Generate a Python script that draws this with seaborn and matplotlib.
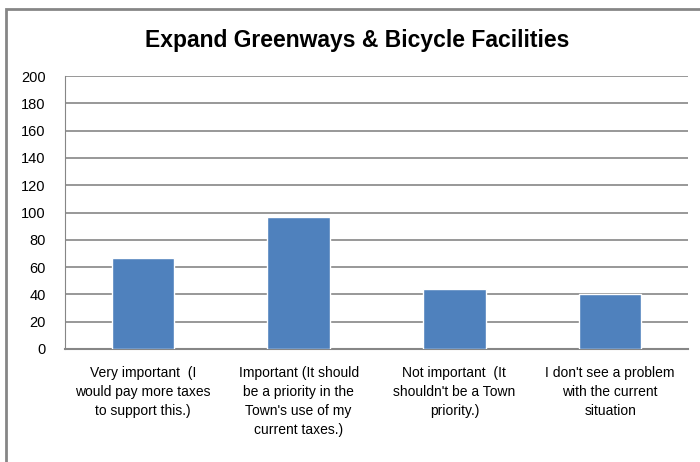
import matplotlib.pyplot as plt
import seaborn as sns
import pandas as pd
from matplotlib.patches import Rectangle

# Chart data
categories = [
    "Very important  (I\nwould pay more taxes\nto support this.)",
    "Important (It should\nbe a priority in the\nTown's use of my\ncurrent taxes.)",
    "Not important  (It\nshouldn't be a Town\npriority.)",
    "I don't see a problem\nwith the current\nsituation",
]
counts = [67, 97, 44, 40]
y_ticks = list(range(0, 201, 20))

df = pd.DataFrame({"category": categories, "count": counts})

sns.set_style("white")
plt.rcParams['font.family'] = ['Liberation Sans', 'DejaVu Sans']

fig = plt.figure(figsize=(7, 4.62), dpi=100)
ax = fig.add_axes([65 / 700, 1 - 349 / 462, 623 / 700, 273 / 462])

sns.barplot(data=df, x="category", y="count", color="#4F81BD", width=0.4,
            saturation=1, ax=ax, zorder=3)

# Axes styling
ax.set_ylim(0, 200)
ax.set_yticks(y_ticks)
ax.set_xlim(-0.5, len(categories) - 0.5)
ax.yaxis.grid(True, color="#868686", linewidth=1.2, zorder=0)
ax.set_axisbelow(True)
for side in ["top", "right"]:
    ax.spines[side].set_visible(False)
ax.spines["left"].set_color("#868686")
ax.spines["bottom"].set_color("#868686")
ax.spines["bottom"].set_linewidth(1.5)
ax.tick_params(axis="y", length=0, pad=14, labelsize=10.5, labelcolor="black")
ax.tick_params(axis="x", length=0, pad=12, labelsize=10, labelcolor="black")
for lbl in ax.get_xticklabels():
    lbl.set_linespacing(1.45)
ax.set_xlabel("")
ax.set_ylabel("")

fig.text(0.51, 1 - 40 / 462, "Expand Greenways & Bicycle Facilities",
         ha="center", va="center", fontsize=16.5, fontweight="bold",
         color="black")

# Outer chart frame
fig.patches.append(Rectangle((6 / 700, -0.1), 1.2, 1 - 9 / 462 + 0.1,
                             transform=fig.transFigure, fill=False,
                             edgecolor="#868686", linewidth=2))

fig.savefig("out.png", dpi=100)
